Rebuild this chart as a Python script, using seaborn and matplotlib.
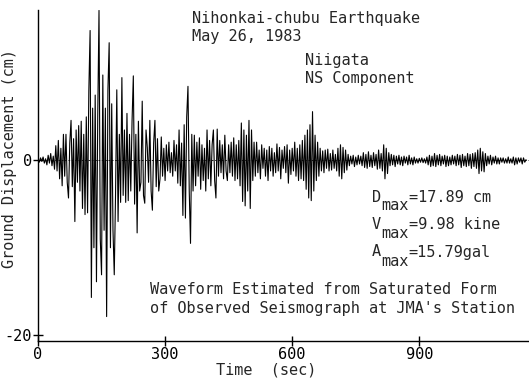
import numpy as np
import pandas as pd
import matplotlib
matplotlib.use("Agg")
import matplotlib.pyplot as plt
import seaborn as sns

dt = 3.0
seg_pre = [0.1, -0.2, 0.3, -0.1, 0.4, -0.3, 0.2, -0.5, 0.6, -0.3, 0.8, -0.6, 0.5, -1.0]
seg_p = [1.7, -1.2, 2.3, -2.1, 1.4, -2.9, 3.0, -1.8]
seg_early = [3.0, -2.5, -4.3, 2.0, 4.6, -3.0, 2.5, -7.0, 3.5, -2.5, 4.0, -3.5, 4.5, -5.5, 3.0, -6.2, 5.0]
seg_main = [-6.0, 8.0, 14.9, -15.7, 6.0, -10.0, 7.5, -13.9, 5.0, 17.2, -9.0, -13.1, 9.8, -8.0,
            6.0, -17.89, 8.0, 13.5, -10.0, 6.5, -8.0, -13.1]
seg_late = [-4.0, 8.1, -7.0, 3.0, -4.8, 9.5, -4.0, 3.5, -4.8, 5.4,
            -4.6, 3.0, -3.5, 4.5, 9.7, -5.0, 3.0, -8.3, 4.5, -3.5,
            -2.5, 6.8, -4.0, -4.9, 3.5, 1.5, -2.5, 4.6, -3.5, -5.7,
            2.0, 4.6, -3.0, 2.5, -3.5]
seg_coda1 = [-2.1, 2.7, -1.8, 1.4, -2.3, 1.8, -1.2, 2.1, -1.4, 0.9, -1.8, 2.3, -1.2, 1.8, -2.6]
seg_burst2 = [3.5, -2.9, 2.0, -6.3, 4.1, -6.6, 5.0, 8.5, -3.5, -9.5, 3.0, -3.5, 2.9]
seg_mid = [-2.9, 2.1, -1.8, 2.6, -3.3, 1.8, -2.3, 1.4, -3.5, 3.5,
           -2.1, 2.3, -2.9, 1.8, 3.5, -2.3, -4.3, 3.6, -1.8, 2.3,
           -1.4, 1.8, -2.1, 2.9, -1.2, -2.3, 1.8, -1.4, 2.1, -1.8,
           2.6, -2.3, 1.8, -2.1]
seg_burst3 = [2.3, -2.9, 4.3, -4.7, 3.5, -5.2, 2.9, -3.5, 4.6, -5.5, 3.5, -2.3, 2.1]
seg_mid2 = [-1.8, 2.1, -1.4, 1.2, -2.1, 1.8, -0.9, 1.4, -1.8, 1.2,
            -2.3, 1.6, -1.2, 1.4, -1.8, 0.9, -1.4, 1.9, -1.2, 1.5,
            -2.1, 1.2, -0.9, 1.6, -1.4, 1.8, -2.6, 1.2, -1.6, 1.4,
            -1.2, 2.1, -1.8, 1.4, -2.3, 1.8, -2.1, 2.3]
seg_burst4 = [-2.3, 2.9, -3.3, 3.5, -4.3, 4.1, -4.6, 5.6, -3.5, 2.9, -2.3, 2.1, -1.8]
seg_mid3 = [1.4, -1.2, 1.1, -1.4, 1.2, -0.9, 1.3, -1.2, 0.8, -1.1,
            1.2, -0.9, 0.7, -1.2, 1.4, -1.8, 1.8, -2.1, 1.5, -1.4, 1.2, -1.1]
seg_quiet1 = [0.7, -0.6, 0.5, -0.4, 0.6, -0.7, 0.4, -0.5, 0.6, -0.4,
              0.5, -0.6, 0.9, -0.8, 0.7, -0.9, 1.0, -0.7, 0.6, -0.8,
              0.9, -0.6, 0.7, -1.0, 1.2, -0.9, 0.8, -1.2]
seg_blip = [1.8, -2.1, 1.4, -1.5, 0.9]
seg_tail1 = [-0.6, 0.7, -0.5, 0.6, -0.7, 0.5, -0.4, 0.6, -0.5, 0.4,
             -0.6, 0.5, -0.3, 0.4, -0.5, 0.6, -0.4, 0.3, -0.5, 0.4,
             -0.3, 0.2, -0.3, 0.25, -0.2, 0.3, -0.25, 0.2, -0.3, 0.4,
             -0.5, 0.6, -0.7, 0.5, -0.6, 0.8, -0.7, 0.6, -0.5, 0.7,
             -0.6, 0.5, -0.4, 0.6, -0.7, 0.5, -0.6, 0.4, -0.5, 0.6,
             -0.4, 0.5, -0.6, 0.7, -0.5, 0.6, -0.8, 0.7, -0.6, 0.5,
             -0.7, 0.8, -0.6, 0.7, -0.9, 0.8, -0.7, 0.9]
seg_blip2 = [-0.9, 1.2, -1.5, 1.4, -1.2, 1.0, -1.3, 0.8]
seg_tail2 = [-0.6, 0.5, -0.4, 0.6, -0.5, 0.4, -0.3, 0.5, -0.4, 0.3,
             -0.4, 0.3, -0.2, 0.3, -0.3, 0.2, -0.3, 0.4, -0.3, 0.2,
             -0.3, 0.4, -0.5, 0.3, -0.4, 0.3, -0.2, 0.3, -0.4, 0.3,
             -0.2, 0.1]

segments = [seg_pre, seg_p, seg_early, seg_main, seg_late, seg_coda1, seg_burst2,
            seg_mid, seg_burst3, seg_mid2, seg_burst4, seg_mid3, seg_quiet1,
            seg_blip, seg_tail1, seg_blip2, seg_tail2]
disp = np.concatenate([np.asarray(s, float) for s in segments])
time = np.arange(len(disp)) * dt
df = pd.DataFrame({"time": time, "disp": disp})

x_ticks = [0, 300, 600, 900]
y_ticks = [-20, 0]
title_lines = ["Nihonkai-chubu Earthquake", "May 26, 1983"]
station_lines = ["Niigata", "NS Component"]
max_values = [("D", "=17.89 cm"), ("V", "=9.98 kine"), ("A", "=15.79gal")]
note_lines = ["Waveform Estimated from Saturated Form",
              "of Observed Seismograph at JMA's Station"]

# ---- figure ----
sns.set_theme(style="ticks")
FONT = "DejaVu Sans Mono"
plt.rcParams["font.family"] = [FONT, "DejaVu Sans"]
FS = 11
CH = 0.602 * FS * 100 / 72  # monospace character advance in pixels

W, H = 529, 379
fig = plt.figure(figsize=(W / 100, H / 100), dpi=100)
fig.patch.set_facecolor("white")

def fx(px):
    return px / W

def fy(py):
    return 1 - py / H

ax_left, ax_right, ax_top, ax_bot = 38, 529, 10, 341
ax = fig.add_axes([fx(ax_left), fy(ax_bot), fx(ax_right - ax_left), (ax_bot - ax_top) / H])
ax.set_facecolor("white")

ax.axhline(0, color="black", lw=0.6, ls=(0, (2, 2)), zorder=1)
sns.lineplot(data=df, x="time", y="disp", ax=ax, color="black", lw=0.8,
             estimator=None, sort=False, zorder=2)

ax.set_xlim(0, 1159)
ax.set_ylim(-20.69, 17.25)
ax.set_xticks(x_ticks)
ax.set_yticks(y_ticks)
ax.set_xticklabels([str(v) for v in x_ticks], fontsize=FS, family=FONT)
ax.set_yticklabels([str(v) for v in y_ticks], fontsize=FS, family=FONT)
ax.tick_params(axis="both", direction="inout", length=7, width=1.0, color="black",
               labelcolor="black")
ax.tick_params(axis="x", pad=1)
ax.tick_params(axis="y", pad=1)
ax.set_xlabel("")
ax.set_ylabel("")
for s in ["top", "right"]:
    ax.spines[s].set_visible(False)
for s in ["left", "bottom"]:
    ax.spines[s].set_color("black")
    ax.spines[s].set_linewidth(1.0)

# axis titles
fig.text(fx(266), fy(370), "Time  (sec)", ha="center", va="center", fontsize=FS, family=FONT)
fig.text(fx(10), fy(158), "Ground Displacement (cm)", rotation=90, ha="center", va="center",
         fontsize=FS, family=FONT)

# annotations
fig.text(fx(192), fy(19), title_lines[0], ha="left", va="center", fontsize=FS, family=FONT)
fig.text(fx(192), fy(36), title_lines[1], ha="left", va="center", fontsize=FS, family=FONT)
fig.text(fx(305), fy(60), station_lines[0], ha="left", va="center", fontsize=FS, family=FONT)
fig.text(fx(305), fy(78), station_lines[1], ha="left", va="center", fontsize=FS, family=FONT)

x0 = 372
for k, (sym, rest) in enumerate(max_values):
    cy = 197 + 27.5 * k
    fig.text(fx(x0), fy(cy), sym, ha="left", va="center", fontsize=FS, family=FONT)
    fig.text(fx(x0 + CH), fy(cy + 9), "max", ha="left", va="center", fontsize=FS, family=FONT)
    fig.text(fx(x0 + 4 * CH), fy(cy), rest, ha="left", va="center", fontsize=FS, family=FONT)

fig.text(fx(150), fy(290), note_lines[0], ha="left", va="center", fontsize=FS, family=FONT)
fig.text(fx(150), fy(308), note_lines[1], ha="left", va="center", fontsize=FS, family=FONT)

fig.savefig("out.png", dpi=100, facecolor="white")
